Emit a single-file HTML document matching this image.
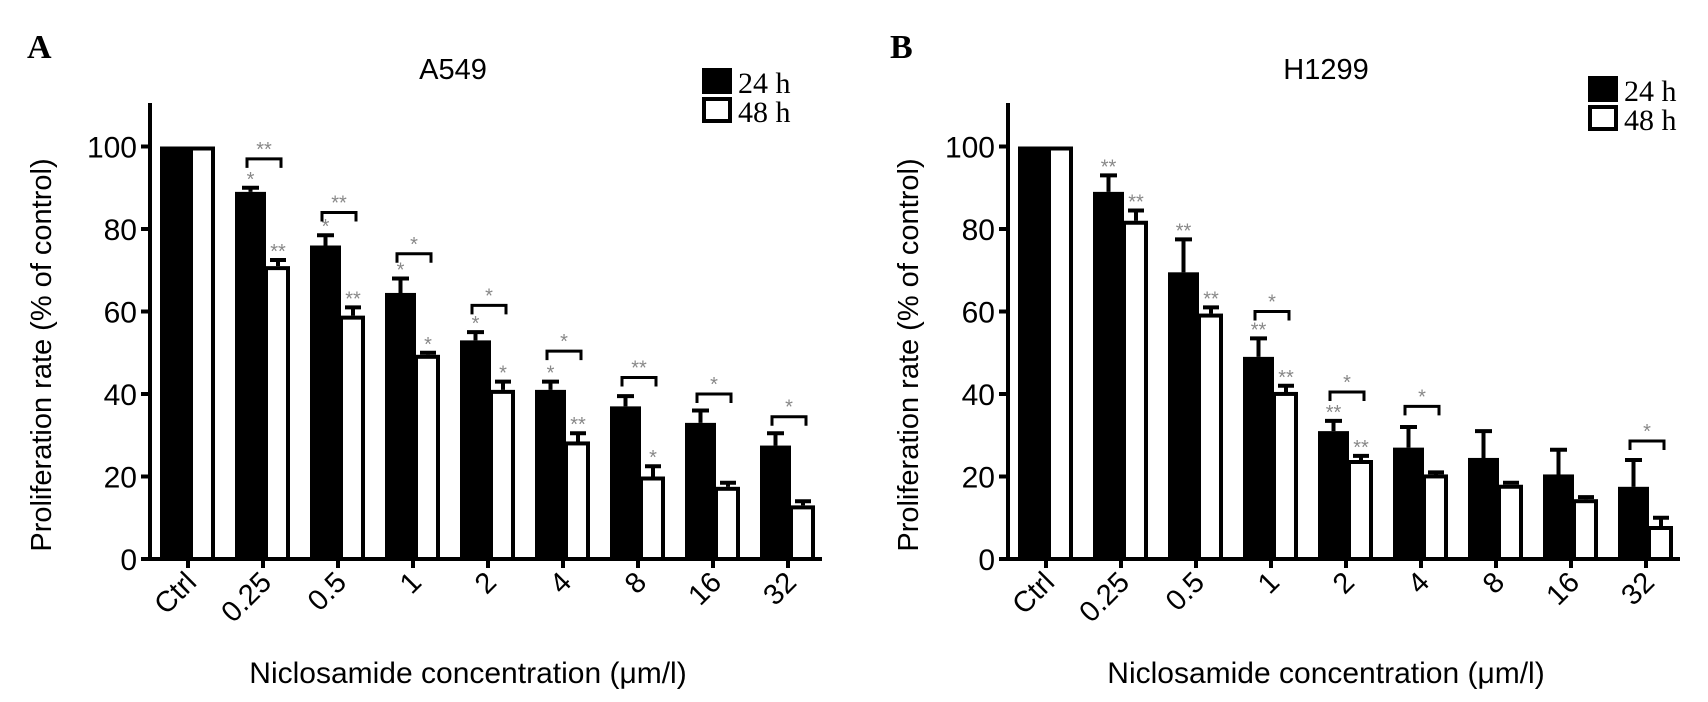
<!DOCTYPE html>
<html><head><meta charset="utf-8"><style>
html,body{margin:0;padding:0;background:#fff;}
svg{display:block;}
text{font-family:"Liberation Sans",Arial,sans-serif;}
</style></head><body>
<svg id="chart" width="1708" height="702" viewBox="0 0 1708 702"></svg>
<script>
const categories = ["Ctrl","0.25","0.5","1","2","4","8","16","32"];
const yTicks = [0,20,40,60,80,100];

const a549_24 = [100,89,76,64.5,53,41,37,33,27.5];
const a549_24err = [0,1,2.5,3.5,2,2,2.5,3,3];
const a549_48 = [100,71,59,49.5,41,28.5,20,17.5,13];
const a549_48err = [0,1.5,2,0.5,2,2,2.5,1,1];
const a549_24stars = ["","*","*","*","*","*","","",""];
const a549_48stars = ["","**","**","*","*","**","*","",""];
const a549_bracket = [null,97,84,74,61.5,50.4,44,40,34.5];
const a549_bracketStars = ["","**","**","*","*","*","**","*","*"];

const h1299_24 = [100,89,69.5,49,31,27,24.5,20.5,17.5];
const h1299_24err = [0,4,8,4.5,2.5,5,6.5,6,6.5];
const h1299_48 = [100,82,59.5,40.5,24,20.5,18,14.5,8];
const h1299_48err = [0,2.5,1.5,1.5,1,0.5,0.5,0.5,2];
const h1299_24stars = ["","**","**","**","**","","","",""];
const h1299_48stars = ["","**","**","**","**","","","",""];
const h1299_bracket = [null,null,null,60,40.5,37,null,null,28.6];
const h1299_bracketStars = ["","","","*","*","*","","","*"];

const NS = "http://www.w3.org/2000/svg";
const svg = document.getElementById('chart');
function mk(tag, attrs, parent, txt){
  const e = document.createElementNS(NS, tag);
  for (const k in attrs) e.setAttribute(k, attrs[k]);
  if (txt !== undefined) e.textContent = txt;
  (parent||svg).appendChild(e);
  return e;
}

function panel(opt){
  const ox = opt.ox;
  const axisX = 150 + ox, y0 = 559, k = 4.125, yTop = 103;
  const yS = v => y0 - v * k;
  const xS = i => 160 + ox + 75 * i; // left edge of black bar
  const g = mk('g', {});
  
  

  // panel letter
  const L = mk('text', {x: opt.letterX, y: 58, 'font-size': 34, 'font-weight': 'bold', 'font-family': '"Liberation Serif",serif', style: 'font-family:"Liberation Serif",serif'}, g, opt.letter);
  
  
  const T = mk('text', {x: opt.titleX, y: 79, 'font-size': 29, 'text-anchor': 'middle'}, g, opt.title);
  
  

  // legend
  const lg = mk('g', {}, g);
  
  
  const r1 = mk('rect', {x: opt.legX, y: opt.legY - 14, width: 30, height: 26, fill: '#000'}, lg);
  
  
  const t1 = mk('text', {x: opt.legX + 36, y: opt.legY + 11, 'font-size': 30, style: 'font-family:"Liberation Serif",serif'}, lg, '24 h');
  
  
  const r2 = mk('rect', {x: opt.legX + 2, y: opt.legY + 17, width: 26, height: 22, fill: '#fff', stroke: '#000', 'stroke-width': 4}, lg);
  
  
  const t2 = mk('text', {x: opt.legX + 36, y: opt.legY + 40, 'font-size': 30, style: 'font-family:"Liberation Serif",serif'}, lg, '48 h');
  
  

  // bars
  for (let i = 0; i < categories.length; i++){
    const xb = xS(i);
    const e1 = opt.e24[i], e2 = opt.e48[i];
    if (e1 > 0){
      const el = mk('path', {d: `M${xb+15.5},${yS(opt.v24[i])} V${yS(opt.v24[i]+e1)} M${xb+7},${yS(opt.v24[i]+e1)} H${xb+24}`, stroke: '#000', 'stroke-width': 4, fill: 'none'}, g);
      
      
    }
    const b = mk('rect', {x: xb, y: yS(opt.v24[i]), width: 31, height: y0 - yS(opt.v24[i]), fill: '#000'}, g);
    
    
    if (e2 > 0){
      const el = mk('path', {d: `M${xb+43},${yS(opt.v48[i])} V${yS(opt.v48[i]+e2)} M${xb+35},${yS(opt.v48[i]+e2)} H${xb+51}`, stroke: '#000', 'stroke-width': 4, fill: 'none'}, g);
      
      
    }
    const w = mk('rect', {x: xb + 31, y: yS(opt.v48[i]) + 2, width: 22, height: y0 - yS(opt.v48[i]) - 2, fill: '#fff', stroke: '#000', 'stroke-width': 4}, g);
    
    

    if (opt.s24[i]){
      const s = mk('text', {x: xb + 15.5, y: yS(opt.v24[i] + e1) - 2, 'font-size': 20, fill: '#888', 'text-anchor': 'middle'}, g, opt.s24[i]);
      
      
    }
    if (opt.s48[i]){
      const s = mk('text', {x: xb + 43, y: yS(opt.v48[i] + e2) - 2, 'font-size': 20, fill: '#888', 'text-anchor': 'middle'}, g, opt.s48[i]);
      
      
    }
    if (opt.br[i] !== null){
      const by = yS(opt.br[i]);
      const p = mk('path', {d: `M${xb+12},${by+9} V${by} H${xb+46} V${by+9}`, stroke: '#000', 'stroke-width': 3, fill: 'none'}, g);
      
      
      const s = mk('text', {x: xb + 29, y: by - 3, 'font-size': 20, fill: '#888', 'text-anchor': 'middle'}, g, opt.brs[i]);
      
      
    }

    // x tick + label
    const tx = xb + 28;
    const tk = mk('line', {x1: tx, y1: y0, x2: tx, y2: y0 + 9, stroke: '#000', 'stroke-width': 4}, g);
    
    
    const lb = mk('text', {x: tx + 10, y: 584, 'font-size': 29, 'text-anchor': 'end', transform: `rotate(-45 ${tx+10} 584)`}, g, categories[i]);
    
    
  }

  // axes
  const ya = mk('line', {x1: axisX, y1: yTop, x2: axisX, y2: y0 + 2, stroke: '#000', 'stroke-width': 4}, g);
  
  
  const xa = mk('line', {x1: axisX - 8, y1: y0, x2: 822 + ox, y2: y0, stroke: '#000', 'stroke-width': 4}, g);
  
  
  for (const t of yTicks){
    const tl = mk('line', {x1: axisX - 9, y1: yS(t), x2: axisX, y2: yS(t), stroke: '#000', 'stroke-width': 4}, g);
    
    
    const tt = mk('text', {x: axisX - 13, y: yS(t) + 11, 'font-size': 30, 'text-anchor': 'end'}, g, String(t));
    
    
  }
  const yt = mk('text', {x: opt.yTitleX, y: 355, 'font-size': 29, 'text-anchor': 'middle', transform: `rotate(-90 ${opt.yTitleX} 355)`}, g, 'Proliferation rate (% of control)');
  
  
  const xt = mk('text', {x: opt.xTitleX, y: 683, 'font-size': 30, 'text-anchor': 'middle'}, g, 'Niclosamide concentration (\u03bcm/l)');
  
  
}

panel({ox: 0, name: 'a549', letter: 'A', letterX: 27, title: 'A549', titleX: 453, legX: 702, legY: 82,
  v24: a549_24, e24: a549_24err, v48: a549_48, e48: a549_48err, s24: a549_24stars, s48: a549_48stars,
  br: a549_bracket, brs: a549_bracketStars, yTitleX: 51, xTitleX: 468});
panel({ox: 858, name: 'h1299', letter: 'B', letterX: 890, title: 'H1299', titleX: 1326, legX: 1588, legY: 90,
  v24: h1299_24, e24: h1299_24err, v48: h1299_48, e48: h1299_48err, s24: h1299_24stars, s48: h1299_48stars,
  br: h1299_bracket, brs: h1299_bracketStars, yTitleX: 918, xTitleX: 1326});
</script>
</body></html>
